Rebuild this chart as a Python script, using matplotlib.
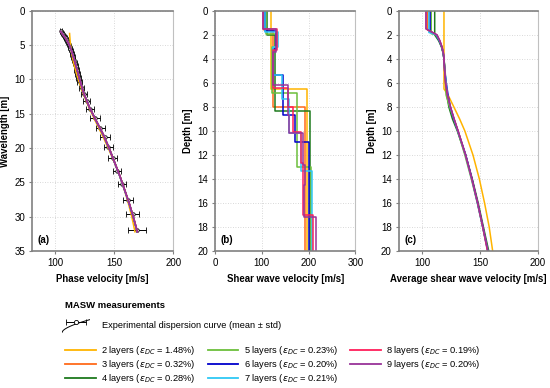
import numpy as np
import matplotlib.pyplot as plt
from matplotlib.lines import Line2D

plt.rcParams['font.family'] = ['Liberation Sans', 'DejaVu Sans']
plt.rcParams['font.size'] = 7

# ---- (a) experimental dispersion curve ----
exp_wl = [3.0, 3.2, 3.4, 3.6, 3.8, 4.0, 4.3, 4.6, 4.9, 5.2, 5.5, 5.9, 6.3, 6.7, 7.1,
          7.6, 8.1, 8.6, 9.2, 9.8, 10.4, 11.2, 12.1, 13.1, 14.3, 15.6, 17.0, 18.4,
          19.8, 21.5, 23.3, 25.3, 27.5, 29.6, 32.0]
exp_v = [104.5, 105.5, 106.4, 107.2, 108.0, 108.7, 109.6, 110.5, 111.3, 112.0, 112.6,
         113.4, 114.1, 114.8, 115.5, 116.3, 117.1, 117.9, 118.8, 119.7, 120.7, 122.2,
         124.0, 126.4, 129.5, 133.5, 138.0, 142.0, 145.0, 148.5, 152.5, 156.5, 161.5,
         165.5, 169.0]
exp_std = [1.0, 1.0, 1.0, 1.0, 1.0, 1.1, 1.1, 1.2, 1.2, 1.3, 1.3, 1.4, 1.4, 1.5, 1.5,
           1.6, 1.7, 1.8, 1.9, 2.0, 2.0, 2.2, 2.5, 3.0, 3.5, 4.0, 4.0, 4.0, 4.0, 4.0,
           3.5, 3.5, 4.5, 5.5, 7.5]

# theoretical dispersion curves
fit_wl = [3.0, 4.0, 5.0, 6.0, 7.0, 8.0, 9.0, 10.0, 12.0, 14.0, 16.0, 18.0, 20.0,
          22.0, 24.0, 26.0, 28.0, 30.0, 32.2]
fit_wl_2 = [3.3, 4.0, 5.0, 6.0, 7.0, 8.0, 9.0, 10.0, 12.0, 14.0, 16.0, 18.0, 20.0,
            22.0, 24.0, 26.0, 28.0, 30.0, 32.2]
fit_2 = [112.0, 112.3, 112.8, 113.6, 114.7, 116.0, 117.6, 119.4, 123.4, 128.2, 133.7,
         139.4, 144.8, 149.8, 154.3, 158.3, 161.8, 164.8, 167.5]
fit_3 = [104.6, 108.8, 111.8, 114.0, 115.8, 117.4, 119.0, 120.6, 124.0, 128.7, 134.4,
         140.3, 145.4, 150.0, 154.5, 158.5, 162.4, 165.9, 169.3]
fit_4 = [104.5, 108.7, 111.9, 114.1, 115.9, 117.5, 119.0, 120.5, 123.9, 128.6, 134.5,
         140.5, 145.6, 150.1, 154.6, 158.6, 162.5, 166.0, 169.5]
fit_5 = [104.4, 108.6, 111.8, 114.0, 115.8, 117.4, 119.1, 120.7, 124.1, 128.8, 134.6,
         140.6, 145.6, 150.0, 154.5, 158.5, 162.5, 166.1, 169.6]
fit_6 = [104.5, 108.7, 111.8, 114.0, 115.8, 117.4, 119.0, 120.6, 124.0, 128.7, 134.5,
         140.5, 145.5, 150.0, 154.5, 158.5, 162.5, 166.0, 169.5]
fit_7 = [104.5, 108.7, 111.8, 114.0, 115.8, 117.4, 119.0, 120.6, 124.0, 128.7, 134.5,
         140.4, 145.5, 150.0, 154.4, 158.4, 162.4, 166.0, 169.4]
fit_8 = [104.4, 108.7, 111.8, 114.0, 115.8, 117.4, 119.0, 120.6, 124.0, 128.7, 134.6,
         140.6, 145.6, 150.1, 154.6, 158.6, 162.6, 166.1, 169.6]
fit_9 = [104.4, 108.6, 111.8, 114.0, 115.8, 117.4, 119.0, 120.6, 124.0, 128.7, 134.5,
         140.5, 145.5, 150.0, 154.5, 158.5, 162.5, 166.0, 169.5]

# ---- (b) shear wave velocity profiles: layer Vs and interface depths ----
vs_2 = [119, 196]
z_2 = [6.5]
vs_3 = [105, 125, 193]
z_3 = [1.6, 8.0]
vs_4 = [111, 129, 203]
z_4 = [2.0, 8.3]
vs_5 = [108, 132, 121, 175, 206]
z_5 = [1.9, 3.0, 6.8, 13.0]
vs_6 = [107, 131, 124, 146, 171, 200]
z_6 = [1.7, 3.2, 5.3, 8.7, 10.9]
vs_7 = [106, 134, 123, 143, 158, 184, 207]
z_7 = [1.8, 3.0, 5.3, 7.3, 10.2, 13.3]
vs_8 = [103, 132, 124, 157, 167, 184, 189, 209]
z_8 = [1.5, 3.3, 6.4, 8.0, 10.1, 12.7, 17.0]
vs_9 = [103, 131, 124, 156, 158, 188, 193, 191, 217]
z_9 = [1.5, 3.4, 6.2, 8.7, 10.2, 12.8, 14.5, 17.2]

# ---- (c) average shear wave velocity ----
avg_z_2 = [0, 6.5, 7.0, 8.0, 9.0, 10.0, 12.0, 14.0, 16.0, 18.0, 20.0]
avg_2 = [119, 119, 122.5, 127.5, 132.5, 137.0, 144.0, 149.5, 154.0, 158.0, 161.0]
avg_z = [2.0, 2.5, 3.0, 3.5, 4.0, 5.0, 6.0, 7.0, 8.0, 9.0, 10.0, 12.0, 14.0, 16.0,
         18.0, 20.0]
avg_top_v = [105, 111, 108, 107, 106, 103.5, 103.5]
avg_top_z = [1.6, 2.0, 1.9, 1.7, 1.8, 1.5, 1.5]
avg_3 = [112.5, 115.0, 117.0, 118.3, 119.0, 119.8, 120.3, 121.5, 124.0, 127.5, 131.0,
         137.5, 143.0, 148.0, 152.5, 157.0]
avg_4 = [111.0, 114.5, 116.8, 118.2, 119.0, 120.0, 120.6, 121.5, 123.2, 126.3, 130.5,
         137.6, 143.4, 148.5, 153.0, 157.6]
avg_5 = [112.0, 115.0, 117.0, 118.3, 119.0, 119.8, 120.3, 120.8, 123.8, 127.5, 130.8,
         137.0, 142.6, 147.8, 152.4, 157.0]
avg_6 = [112.3, 115.0, 117.1, 118.3, 119.0, 119.6, 121.0, 122.5, 124.5, 127.4, 131.0,
         137.8, 143.2, 148.0, 152.5, 156.8]
avg_7 = [112.5, 115.2, 117.2, 118.4, 119.0, 119.7, 120.8, 122.0, 124.4, 127.6, 131.0,
         137.5, 142.8, 147.8, 152.3, 156.7]
avg_8 = [113.0, 115.5, 117.3, 118.5, 119.0, 119.6, 120.4, 121.9, 124.6, 127.8, 131.2,
         137.6, 143.0, 148.0, 152.4, 156.5]
avg_9 = [113.0, 115.5, 117.3, 118.5, 119.0, 119.6, 120.4, 122.0, 124.6, 127.7, 131.1,
         137.6, 143.1, 148.1, 152.6, 156.9]

labels = ['2 layers', '3 layers', '4 layers', '5 layers', '6 layers', '7 layers',
          '8 layers', '9 layers']
eps_dc = ['1.48', '0.32', '0.28', '0.23', '0.20', '0.21', '0.19', '0.20']
colors = ['#FFB400', '#FF6A1A', '#1E7A1E', '#6CBF3C', '#0000CC', '#2EC8F5',
          '#FF1F5A', '#993399']

fits = [fit_2, fit_3, fit_4, fit_5, fit_6, fit_7, fit_8, fit_9]
profiles = [(vs_2, z_2), (vs_3, z_3), (vs_4, z_4), (vs_5, z_5), (vs_6, z_6),
            (vs_7, z_7), (vs_8, z_8), (vs_9, z_9)]
avgs = [avg_3, avg_4, avg_5, avg_6, avg_7, avg_8, avg_9]


def style_axes(ax, xlim, xticks, ylim, yticks, xlabel, ylabel, tag):
    ax.set_xlim(*xlim)
    ax.set_ylim(*ylim)
    ax.set_xticks(xticks)
    ax.set_yticks(yticks)
    ax.grid(True, color='#cccccc', linestyle=(0, (1, 2)), linewidth=0.6)
    ax.set_axisbelow(True)
    for side in ['left', 'top', 'bottom']:
        ax.spines[side].set_color('#808080')
        ax.spines[side].set_linewidth(1.2)
    ax.spines['right'].set_color('#c0c0c0')
    ax.tick_params(length=2, color='#808080', pad=3, labelsize=7)
    ax.set_xlabel(xlabel, fontweight='bold', fontsize=6.9, labelpad=4)
    ax.set_ylabel(ylabel, fontweight='bold', fontsize=6.9, labelpad=3)
    ax.text(0.04, 0.035, tag, transform=ax.transAxes, fontweight='bold', fontsize=7)


fig = plt.figure(figsize=(5.5, 3.88), dpi=100)
ax_a = fig.add_axes([0.058, 0.353, 0.257, 0.619])
ax_b = fig.add_axes([0.391, 0.353, 0.255, 0.619])
ax_c = fig.add_axes([0.725, 0.353, 0.253, 0.619])

# (a)
ax_a.errorbar(exp_v, exp_wl, xerr=exp_std, fmt='o', color='black', ms=2.5,
              mfc='white', mew=0.6, elinewidth=0.7, capsize=2, capthick=0.7, zorder=2)
for i, f in enumerate(fits):
    wl = fit_wl_2 if i == 0 else fit_wl
    ax_a.plot(f, wl, color=colors[i], lw=1.1, zorder=3)
style_axes(ax_a, (80, 200), [100, 150, 200], (35, 0), range(0, 36, 5),
           'Phase velocity [m/s]', 'Wavelength [m]', '(a)')

# (b)
for i, (vs, zi) in enumerate(profiles):
    x = np.repeat(vs, 2)
    y = np.concatenate([[0], np.repeat(zi, 2), [20]])
    ax_b.plot(x, y, color=colors[i], lw=1.1)
style_axes(ax_b, (0, 300), [0, 100, 200, 300], (20, 0), range(0, 21, 2),
           'Shear wave velocity [m/s]', 'Depth [m]', '(b)')

# (c)
ax_c.plot(avg_2, avg_z_2, color=colors[0], lw=1.1)
for i, a in enumerate(avgs):
    x = [avg_top_v[i], avg_top_v[i]] + a
    y = [0, avg_top_z[i]] + avg_z
    ax_c.plot(x, y, color=colors[i + 1], lw=1.1)
style_axes(ax_c, (80, 200), [100, 150, 200], (20, 0), range(0, 21, 2),
           'Average shear wave velocity [m/s]', 'Depth [m]', '(c)')

# legend block
fig.text(65 / 550, 1 - 305 / 388, 'MASW measurements', fontweight='bold',
         fontsize=6.8, va='center')
ax_i = fig.add_axes([62 / 550, 1 - 334 / 388, 28 / 550, 16 / 388])
ax_i.axis('off')
ax_i.set_xlim(0, 1)
ax_i.set_ylim(0, 1)
t = np.linspace(0, 1, 30)
ax_i.plot(t, 0.1 + 0.8 * t ** 0.6, color='black', lw=0.7)
ax_i.errorbar([0.5], [0.72], xerr=[[0.35], [0.35]], fmt='o', color='black', ms=3,
              mfc='white', mew=0.6, elinewidth=0.7, capsize=2.5, capthick=0.7)
fig.text(102 / 550, 1 - 325 / 388, 'Experimental dispersion curve (mean \u00b1 std)',
         fontsize=6.7, va='center')

handles = [Line2D([], [], color=c, lw=1.3) for c in colors]
texts = [f'{lab} ($\\epsilon_{{DC}}$ = {e}%)' for lab, e in zip(labels, eps_dc)]
fig.legend(handles, texts, ncol=3, frameon=False, loc='upper left',
           bbox_to_anchor=(65 / 550, 1 - 344 / 388), fontsize=6.7, handlelength=3.3,
           handletextpad=0.6, columnspacing=1.3, labelspacing=0.12,
           borderaxespad=0, borderpad=0)

fig.savefig('out.png', dpi=100)
